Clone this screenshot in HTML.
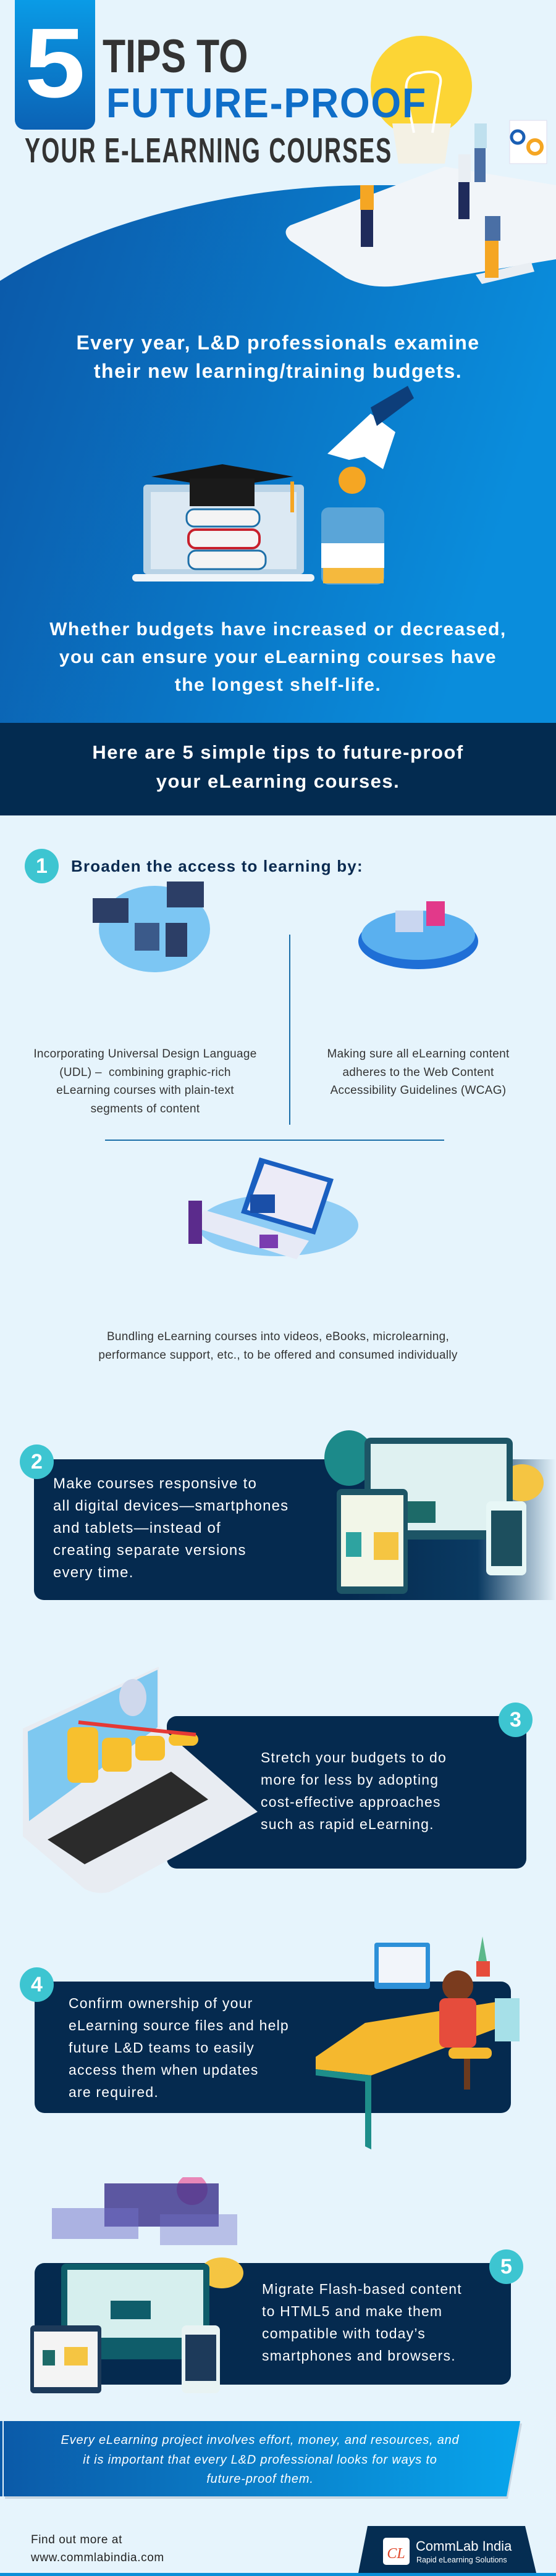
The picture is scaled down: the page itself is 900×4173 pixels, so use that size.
<!DOCTYPE html>
<html><head><meta charset="utf-8">
<style>
*{margin:0;padding:0;box-sizing:border-box}
body{width:900px;height:4173px;position:relative;overflow:hidden;background:#e6f4fc;font-family:"Liberation Sans",sans-serif}
.a{position:absolute}
.c{text-align:center;left:0;width:900px}
.w{color:#fff;font-weight:bold;letter-spacing:1.5px}
.box{position:absolute;background:#052a4f;border-radius:16px}
.num{position:absolute;width:55px;height:56px;border-radius:50%;background:#3dc5d1;color:#fff;font-weight:bold;font-size:34px;text-align:center;line-height:56px}
.bt{position:absolute;color:#fff;font-size:24px;line-height:36px;letter-spacing:1.2px}
.cap{position:absolute;color:#333;font-size:19px;line-height:29.5px;text-align:center;letter-spacing:.3px}
.nw{white-space:nowrap}
</style></head><body>

<svg class="a" style="left:0;top:0" width="900" height="1180">
<defs><linearGradient id="g1" x1="0" y1="0" x2="1" y2="0.3"><stop offset="0" stop-color="#0b58a8"/><stop offset="1" stop-color="#0a8ddc"/></linearGradient></defs>
<path d="M0 455 C150 360 380 300 600 300 L900 300 L900 1180 L0 1180 Z" fill="url(#g1)"/>
<path d="M470 365 L720 270 L900 300 L900 420 L650 462 Q600 470 560 450 L470 390 Q455 375 470 365Z" fill="#f1f5f9"/>
<path d="M770 445 L860 425 L865 440 L780 460Z" fill="#e9eef3"/>
<circle cx="682" cy="140" r="82" fill="#fcd535"/>
<path d="M635 200 L730 200 L720 265 L645 265Z" fill="#f4f1e4"/>
<path d="M660 160 Q650 120 680 118 Q720 110 712 140 L700 215 M670 215 L660 165" stroke="#fff" stroke-width="4" fill="none"/>
<rect x="583" y="300" width="22" height="40" fill="#f5a623"/><rect x="584" y="340" width="20" height="60" fill="#1f2b5b"/>
<rect x="742" y="250" width="20" height="45" fill="#e9eef3"/><rect x="742" y="295" width="18" height="60" fill="#1f2b5b"/>
<rect x="768" y="200" width="20" height="40" fill="#bfe0ee"/><rect x="768" y="240" width="18" height="55" fill="#4a6fa5"/>
<rect x="785" y="350" width="25" height="40" fill="#4a6fa5"/><rect x="785" y="390" width="22" height="60" fill="#f5a623"/>
<rect x="825" y="195" width="60" height="70" fill="#fff" stroke="#dde" />
<circle cx="838" cy="222" r="10" fill="none" stroke="#1a5fb4" stroke-width="5"/><circle cx="866" cy="238" r="11" fill="none" stroke="#f5a623" stroke-width="6"/>
<rect x="232" y="785" width="260" height="145" rx="6" fill="#b9d3e6"/><rect x="244" y="797" width="236" height="125" fill="#dce9f3"/>
<rect x="214" y="930" width="295" height="12" rx="6" fill="#eef4f9"/>
<rect x="302" y="825" width="118" height="28" rx="12" fill="#f4f4f4" stroke="#1d6fa8" stroke-width="3"/>
<rect x="305" y="858" width="115" height="30" rx="12" fill="#f4f4f4" stroke="#c8202b" stroke-width="4"/>
<rect x="305" y="892" width="125" height="30" rx="12" fill="#f4f4f4" stroke="#1d6fa8" stroke-width="3"/>
<path d="M245 772 L360 752 L475 772 L360 790Z" fill="#161616"/><rect x="307" y="775" width="105" height="45" fill="#1a1a1a"/>
<rect x="470" y="780" width="6" height="50" fill="#f5a623"/>
<rect x="520" y="822" width="102" height="125" rx="12" fill="#5aa5d8"/><rect x="520" y="880" width="102" height="40" fill="#fff"/><rect x="523" y="920" width="98" height="25" fill="#f5b93d"/>
<circle cx="570" cy="778" r="22" fill="#f5a623"/>
<path d="M530 735 L600 670 L640 700 L620 760 L590 740 L565 745Z" fill="#fff"/><path d="M600 660 L660 625 L670 645 L610 690Z" fill="#0d3e7a"/>
</svg>

<div class="a" style="left:24px;top:0;width:130px;height:210px;background:linear-gradient(#0a9be6,#0b62b5);border-radius:0 0 16px 16px"></div>
<div class="a w" style="left:24px;top:12px;width:130px;text-align:center;font-size:160px;line-height:180px;letter-spacing:0;transform:scaleX(1.1)">5</div>
<div class="a nw" style="left:166px;top:52px;font-size:76px;font-weight:bold;color:#333;line-height:80px;transform-origin:0 0;transform:scaleX(.8)">TIPS TO</div>
<div class="a nw" style="left:172px;top:132px;font-size:68px;font-weight:bold;color:#0f6ec8;line-height:70px;transform-origin:0 0;transform:scaleX(.92);letter-spacing:2px">FUTURE-PROOF</div>
<div class="a nw" style="left:40px;top:214px;font-size:57px;font-weight:bold;color:#333;line-height:60px;transform-origin:0 0;transform:scaleX(.66);letter-spacing:3px">YOUR E-LEARNING COURSES</div>

<div class="a c w" style="top:532px;font-size:32px;line-height:46px">Every year, L&amp;D professionals examine<br>their new learning/training budgets.</div>
<div class="a c w" style="top:997px;font-size:30px;line-height:45px">Whether budgets have increased or decreased,<br>you can ensure your eLearning courses have<br>the longest shelf-life.</div>

<div class="a" style="left:0;top:1171px;width:900px;height:150px;background:#032b50"></div>
<div class="a c w" style="top:1195px;font-size:31px;line-height:47px">Here are 5 simple tips to future-proof<br>your eLearning courses.</div>

<div class="num" style="left:40px;top:1375px">1</div>
<div class="a nw" style="left:115px;top:1388px;font-size:26px;font-weight:bold;color:#0a2a50;letter-spacing:1.2px">Broaden the access to learning by:</div>
<svg class="a" style="left:0;top:1400px" width="900" height="730">
<ellipse cx="250" cy="105" rx="90" ry="70" fill="#7cc6f3"/>
<rect x="150" y="55" width="58" height="40" fill="#2c3e66"/><rect x="270" y="28" width="60" height="42" fill="#2c3e66"/><rect x="268" y="95" width="35" height="55" fill="#2c3e66"/><rect x="218" y="95" width="40" height="45" fill="#3b5a8a"/>
<ellipse cx="677" cy="125" rx="97" ry="45" fill="#1f6fd6"/><ellipse cx="677" cy="115" rx="92" ry="40" fill="#5ab0ef"/>
<rect x="640" y="75" width="45" height="35" fill="#c9d6f0"/><rect x="690" y="60" width="30" height="40" fill="#e2398a"/>
<rect x="468" y="114" width="2" height="308" fill="#1a6ea8"/>
<rect x="170" y="446" width="549" height="2" fill="#1a6ea8"/>
<ellipse cx="450" cy="585" rx="130" ry="50" fill="#8fcdf5"/>
<path d="M420 475 L540 510 L510 600 L390 565Z" fill="#1a5fc0"/><path d="M428 485 L530 515 L505 590 L400 560Z" fill="#ecebf7"/>
<path d="M330 560 L500 610 L480 640 L320 590Z" fill="#e7eaf6"/>
<rect x="405" y="535" width="40" height="30" fill="#1a4fa8"/>
<rect x="305" y="545" width="22" height="70" fill="#5b2b8c"/><rect x="420" y="600" width="30" height="22" fill="#7a3cb0"/>
</svg>
<div class="cap" style="left:20px;width:430px;top:1693px">Incorporating Universal Design Language<br>(UDL) –&nbsp; combining graphic-rich<br>eLearning courses with plain-text<br>segments of content</div>
<div class="cap" style="left:487px;width:380px;top:1693px">Making sure all eLearning content<br>adheres to the Web Content<br>Accessibility Guidelines (WCAG)</div>
<div class="cap" style="left:0;width:900px;top:2151px">Bundling eLearning courses into videos, eBooks, microlearning,<br>performance support, etc., to be offered and consumed individually</div>

<div class="box" style="left:55px;top:2364px;width:845px;height:228px;border-radius:16px 0 0 16px;background:linear-gradient(90deg,#052a4f 60%,#0a3a62 85%,#e6f4fc 100%)"></div>
<svg class="a" style="left:505px;top:2282px" width="395" height="315">
<ellipse cx="60" cy="80" rx="40" ry="45" fill="#1c8a8a"/><ellipse cx="340" cy="120" rx="35" ry="30" fill="#f5c542"/>
<rect x="85" y="47" width="240" height="165" rx="10" fill="#1d5566"/><rect x="95" y="57" width="220" height="140" fill="#dff1f1"/>
<rect x="140" y="150" width="60" height="35" fill="#1d6a68"/>
<rect x="40" y="130" width="115" height="170" rx="8" fill="#1d5566"/><rect x="47" y="140" width="101" height="148" fill="#f2f6e8"/>
<rect x="100" y="200" width="40" height="45" fill="#f5c542"/><rect x="55" y="200" width="25" height="40" fill="#2ea3a0"/>
<rect x="282" y="150" width="65" height="120" rx="8" fill="#e7f7f6"/><rect x="290" y="165" width="50" height="90" fill="#1d4f5e"/>
</svg>
<div class="num" style="left:32px;top:2340px">2</div>
<div class="bt nw" style="left:86px;top:2386px">Make courses responsive to<br>all digital devices—smartphones<br>and tablets—instead of<br>creating separate versions<br>every time.</div>

<div class="box" style="left:270px;top:2780px;width:582px;height:247px"></div>
<svg class="a" style="left:37px;top:2700px" width="380" height="370">
<path d="M0 100 L220 0 L220 95 L380 235 L140 365 Q120 370 100 360 L0 275Z" fill="#e8ecf2"/>
<path d="M8 105 L218 5 L218 98 L10 250Z" fill="#7ec8f0"/>
<path d="M40 280 L240 170 L300 215 L100 320Z" fill="#2b2b2b"/>
<g fill="#f7c02e"><rect x="72" y="98" width="50" height="90" rx="10"/><rect x="128" y="115" width="48" height="55" rx="10"/><rect x="182" y="112" width="48" height="40" rx="10"/><rect x="236" y="108" width="48" height="20" rx="10"/></g>
<path d="M90 90 Q180 100 280 110" stroke="#e53935" stroke-width="6" fill="none"/>
<ellipse cx="178" cy="50" rx="22" ry="30" fill="#cfd8ec"/>
</svg>
<div class="num" style="left:807px;top:2758px">3</div>
<div class="bt nw" style="left:422px;top:2829px;line-height:36px;font-size:23px">Stretch your budgets to do<br>more for less by adopting<br>cost-effective approaches<br>such as rapid eLearning.</div>

<div class="box" style="left:56px;top:3210px;width:771px;height:213px"></div>
<svg class="a" style="left:511px;top:3127px" width="335" height="355">
<path d="M0 205 L80 150 L330 110 L330 145 L90 235 L0 225Z" fill="#f5b82e"/>
<path d="M0 225 L90 235 L90 355 L80 350 L80 245 L0 235Z" fill="#1e8e8a"/>
<rect x="95" y="20" width="90" height="75" rx="4" fill="#2d90d8"/><rect x="102" y="27" width="76" height="58" fill="#f2f5fa"/>
<rect x="260" y="50" width="22" height="25" fill="#e64c3c"/><path d="M263 50 L270 10 L277 50Z" fill="#5cb88a"/>
<circle cx="230" cy="90" r="25" fill="#7a3b1e"/><rect x="200" y="110" width="60" height="80" rx="10" fill="#e64c3c"/>
<rect x="215" y="190" width="70" height="18" rx="8" fill="#f5b82e"/><rect x="240" y="208" width="10" height="50" fill="#6b3a1e"/>
<rect x="290" y="110" width="40" height="70" fill="#a6e0e8"/>
</svg>
<div class="num" style="left:32px;top:3187px">4</div>
<div class="bt nw" style="left:111px;top:3227px;font-size:23px">Confirm ownership of your<br>eLearning source files and help<br>future L&amp;D teams to easily<br>access them when updates<br>are required.</div>

<div class="box" style="left:56px;top:3666px;width:771px;height:197px"></div>
<svg class="a" style="left:49px;top:3527px" width="350" height="365">
<circle cx="262" cy="20" r="25" fill="#e887b8"/>
<rect x="120" y="10" width="185" height="70" fill="#3a2f8a" opacity=".8"/>
<rect x="35" y="50" width="140" height="50" fill="#7070c8" opacity=".5"/><rect x="210" y="60" width="125" height="50" fill="#7070c8" opacity=".4"/>
<ellipse cx="310" cy="155" rx="35" ry="25" fill="#f5c542"/>
<rect x="50" y="140" width="240" height="155" rx="8" fill="#0f5d6a"/><rect x="60" y="150" width="220" height="110" fill="#d6efee"/>
<rect x="130" y="200" width="65" height="30" fill="#0f5d6a"/>
<rect x="0" y="240" width="115" height="110" rx="6" fill="#1d3a5a"/><rect x="6" y="250" width="103" height="90" fill="#f4f4f4"/>
<rect x="55" y="275" width="38" height="30" fill="#f5c542"/><rect x="20" y="280" width="20" height="25" fill="#1d6a68"/>
<rect x="245" y="240" width="62" height="110" rx="8" fill="#e8f3f3"/><rect x="251" y="255" width="50" height="75" fill="#1d3a5a"/>
</svg>
<div class="num" style="left:792px;top:3644px">5</div>
<div class="bt nw" style="left:424px;top:3690px;font-size:23px">Migrate Flash-based content<br>to HTML5 and make them<br>compatible with today’s<br>smartphones and browsers.</div>

<svg class="a" style="left:0;top:3922px" width="900" height="130">
<defs><linearGradient id="g3" x1="0" x2="1"><stop offset="0" stop-color="#0b5aa8"/><stop offset="1" stop-color="#08a5ec"/></linearGradient></defs>
<path d="M8 4 L845 4 L822 126 L8 126Z" fill="#c8d6e2"/>
<path d="M6 0 L842 0 L820 122 L6 122Z" fill="url(#g3)"/>
<rect x="0" y="0" width="4" height="122" fill="#0b5aa8"/>
</svg>
<div class="a c" style="top:3938px;color:#fff;font-style:italic;font-size:20px;line-height:31.5px;letter-spacing:.8px;width:842px">Every eLearning project involves effort, money, and resources, and<br>it is important that every L&amp;D professional looks for ways to<br>future-proof them.</div>

<div class="a" style="left:50px;top:4100px;font-size:19px;line-height:29px;color:#222;letter-spacing:.6px">Find out more at<br>www.commlabindia.com</div>
<svg class="a" style="left:0;top:4090px" width="900" height="83">
<path d="M595 2 L850 2 L868 78 L580 78Z" fill="#052d52"/>
<rect x="0" y="78" width="900" height="5" fill="#0a8fd8"/>
<rect x="620" y="21" width="43" height="44" rx="5" fill="#fff"/>
<text x="641" y="54" font-family="Liberation Serif,serif" font-style="italic" font-size="24" fill="#e0472a" text-anchor="middle">CL</text>
<text x="673" y="42" font-family="Liberation Sans,sans-serif" font-size="22" fill="#fff">CommLab India</text>
<text x="674" y="61" font-family="Liberation Sans,sans-serif" font-size="12.5" fill="#fff">Rapid eLearning Solutions</text>
</svg>
</body></html>
